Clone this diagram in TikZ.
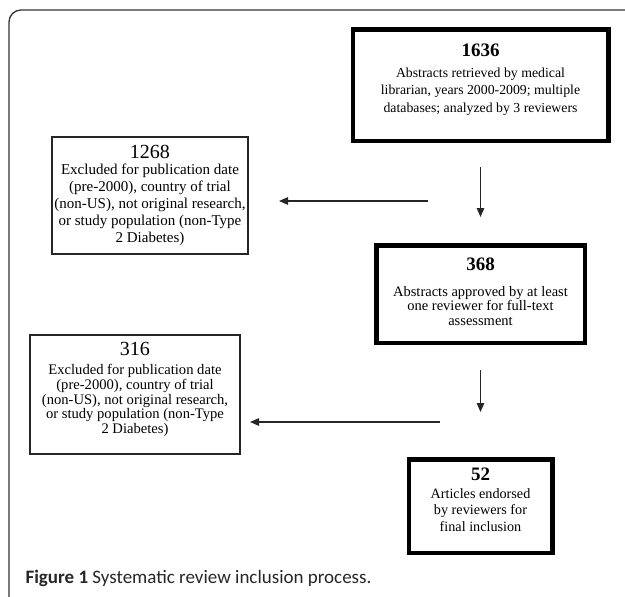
\documentclass[tikz,border=0pt]{standalone}
\usepackage{fontspec}
\setmainfont{Liberation Serif}
\newfontfamily\capfont{Carlito}
\usetikzlibrary{positioning,arrows.meta}
\newcommand{\boxnum}[1]{{\fontsize{19}{19}\selectfont\bfseries #1}}
\newcommand{\sidenum}[1]{{\fontsize{20}{20}\selectfont #1}}
\begin{document}
\begin{tikzpicture}[x=1pt, y=-1pt,
        keybox/.style={draw=black, line width=4pt, inner sep=0pt},
        sidebox/.style={draw=black!85, line width=1.1pt, inner sep=0pt},
        boxtext/.style={align=center, inner sep=0pt},
        flow/.style={draw=black!85, line width=1.3pt, -{Triangle[length=9pt,width=7.5pt]}}]
    \useasboundingbox (0,0) rectangle (625,597);
    \draw [black!80, line width=1.3pt, rounded corners=12pt] (9,597) -- (9,10) -- (625,10);
    % main column
    \node [keybox, minimum width=256pt, minimum height=112pt] (b1636) at (480.5,85) {};
    \node [keybox, minimum width=209pt, minimum height=98pt] (b368) at (480.5,294) {};
    \node [keybox, minimum width=144pt, minimum height=94pt] (b52) at (480.5,506) {};
    \foreach \b in {b1636,b368,b52}
        \draw [line width=1pt] ([xshift=4pt,yshift=-4pt]\b.north west) rectangle ([xshift=-4pt,yshift=4pt]\b.south east);
    % excluded column
    \node [sidebox, minimum width=196pt, minimum height=117pt] (b1268) at (150,195.5) {};
    \node [sidebox, minimum width=210pt, minimum height=119pt] (b316) at (135,394.5) {};
    % texts
    \node [boxtext, below=17pt of b1636.north, font=\fontsize{13.8}{17.5}\selectfont] (t1636)
        {\boxnum{1636}\\[3pt] Abstracts retrieved by medical\\ librarian, years 2000-2009; multiple\\ databases; analyzed by 3 reviewers};
    \node [boxtext, below=15pt of b368.north, font=\fontsize{14.5}{14.5}\selectfont] (t368)
        {\boxnum{368}\\[11pt] Abstracts approved by at least\\ one reviewer for full-text\\ assessment};
    \node [boxtext, below=11pt of b52.north, font=\fontsize{14.2}{16.5}\selectfont] (t52)
        {\boxnum{52}\\[1pt] Articles endorsed\\ by reviewers for\\ final inclusion};
    \node [boxtext, below=9pt of b1268.north, font=\fontsize{15}{17}\selectfont] (t1268)
        {\sidenum{1268}\\[-1pt] Excluded for publication date\\ (pre-2000), country of trial\\ (non-US), not original research,\\ or study population (non-Type\\ 2 Diabetes)};
    \node [boxtext, below=8pt of b316.north, font=\fontsize{14.6}{14.6}\selectfont] (t316)
        {\sidenum{316}\\[4.5pt] Excluded for publication date\\ (pre-2000), country of trial\\ (non-US), not original research,\\ or study population (non-Type\\ 2 Diabetes)};
    % arrows
    \coordinate (x1s) at (428,201);
    \coordinate (x1e) at (279,201);
    \coordinate (x2s) at (440,422);
    \coordinate (x2e) at (250,422);
    \draw [flow] ([yshift=-24pt]b1636.south) -- ([yshift=26pt]b368.north);
    \draw [flow] (x1s) -- (x1e);
    \draw [flow] ([yshift=-25pt]b368.south) -- ([yshift=45pt]b52.north);
    \draw [flow] (x2s) -- (x2e);
    % caption
    \node [anchor=base west, font=\capfont\fontsize{19}{19}\selectfont, text=black!85] (cap) at (22,583)
        {\textbf{Figure 1} Systematic review inclusion process.};
\end{tikzpicture}
\end{document}
